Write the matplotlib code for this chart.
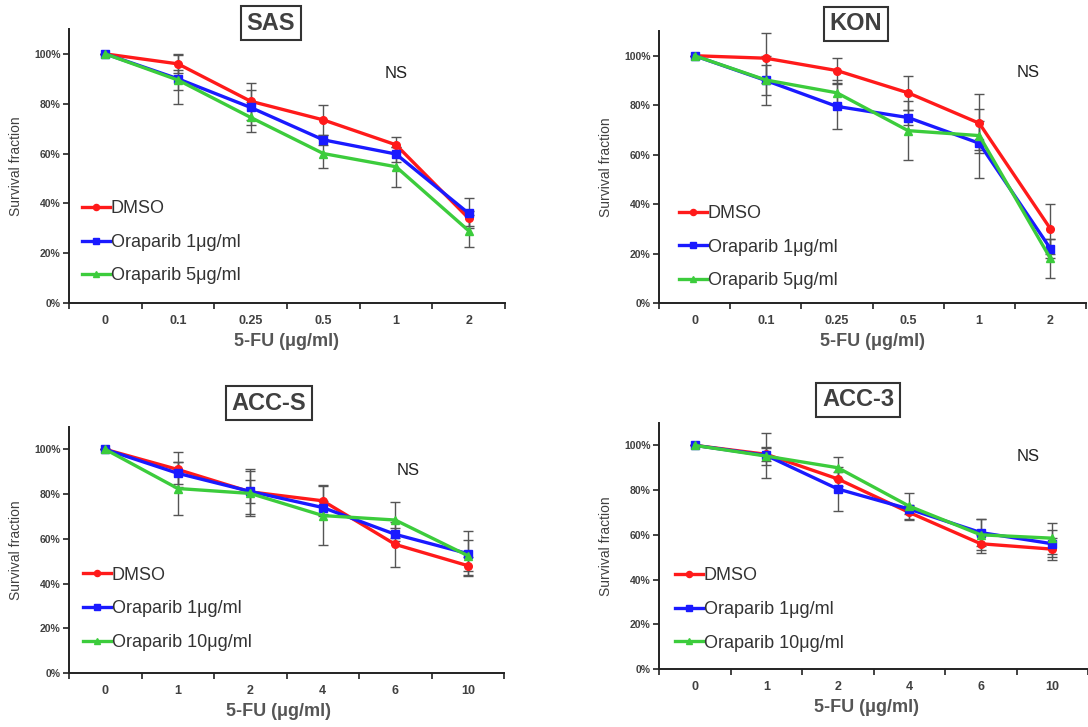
import matplotlib
matplotlib.use("Agg")
import matplotlib.pyplot as plt

plt.rcParams["font.family"] = ["Liberation Sans", "DejaVu Sans"]

W, H = 1088, 727

# --- data -------------------------------------------------------------
sas_doses = ["0", "0.1", "0.25", "0.5", "1", "2"]
sas_dmso = [100, 96, 81, 73.5, 63.5, 34]
sas_ora1 = [100, 90, 78.5, 65.5, 59.8, 36]
sas_ora5 = [100, 89.5, 74.5, 60, 54.7, 29]
sas_dmso_err = [0, 3.5, 7.5, 6, 3, 3]
sas_ora1_err = [0, 10, 7, 2, 3, 6]
sas_ora5_err = [0, 4, 6, 6, 8, 6.5]

kon_doses = ["0", "0.1", "0.25", "0.5", "1", "2"]
kon_dmso = [100, 99, 94, 85, 72.7, 30]
kon_ora1 = [100, 90, 79.5, 75, 64.6, 22]
kon_ora5 = [100, 90.2, 85, 69.7, 67.7, 18]
kon_dmso_err = [0, 10, 5, 7, 12, 10]
kon_ora1_err = [0, 10, 9, 3, 14, 4]
kon_ora5_err = [0, 6, 5, 12, 6, 8]

accs_doses = ["0", "1", "2", "4", "6", "10"]
accs_dmso = [100, 91, 81, 77, 57.5, 48]
accs_ora1 = [100, 89.3, 81.2, 74, 62, 53.4]
accs_ora10 = [100, 82.5, 80.3, 70.4, 68.4, 52.5]
accs_dmso_err = [0, 8, 10, 7, 10, 4]
accs_ora1_err = [0, 5, 5, 3, 3, 10]
accs_ora10_err = [0, 12, 10, 13, 8, 7]

acc3_doses = ["0", "1", "2", "4", "6", "10"]
acc3_dmso = [100, 96, 85, 70, 56, 53.6]
acc3_ora1 = [100, 95.5, 80.5, 71.5, 61, 56]
acc3_ora10 = [100, 95.2, 90, 72.8, 60, 58.5]
acc3_dmso_err = [0, 3, 3, 3, 4, 5]
acc3_ora1_err = [0, 10, 10, 2, 6, 6]
acc3_ora10_err = [0, 4, 5, 6, 7, 7]

yticks = [0, 20, 40, 60, 80, 100]

panels = [
    # title, doses, series, errors, labels, axes box px (l, r, t, b),
    # title centre px, NS pos, legend anchor, xlabel centre px
    ("SAS", sas_doses, [sas_dmso, sas_ora1, sas_ora5],
     [sas_dmso_err, sas_ora1_err, sas_ora5_err],
     ["DMSO", "Oraparib 1μg/ml", "Oraparib 5μg/ml"],
     (69, 505, 29, 303), (271, 23), (0.75, 0.836), (0.03, 0.375), 286),
    ("KON", kon_doses, [kon_dmso, kon_ora1, kon_ora5],
     [kon_dmso_err, kon_ora1_err, kon_ora5_err],
     ["DMSO", "Oraparib 1μg/ml", "Oraparib 5μg/ml"],
     (659, 1086, 31, 303), (856, 24), (0.864, 0.846), (0.047, 0.36), 872),
    ("ACC-S", accs_doses, [accs_dmso, accs_ora1, accs_ora10],
     [accs_dmso_err, accs_ora1_err, accs_ora10_err],
     ["DMSO", "Oraparib 1μg/ml", "Oraparib 10μg/ml"],
     (69, 504, 427, 673), (269, 403), (0.78, 0.825), (0.032, 0.432), 278),
    ("ACC-3", acc3_doses, [acc3_dmso, acc3_ora1, acc3_ora10],
     [acc3_dmso_err, acc3_ora1_err, acc3_ora10_err],
     ["DMSO", "Oraparib 1μg/ml", "Oraparib 10μg/ml"],
     (659, 1088, 423, 669), (858, 400), (0.86, 0.862), (0.037, 0.413), 866),
]

colors = ["#ff1a1a", "#1a1aff", "#3ccc3c"]
markers = ["o", "s", "^"]
text_col = "#404040"

fig = plt.figure(figsize=(W / 100, H / 100), dpi=100)

for (title, doses, series, errs, labels, box, tpos, ns_pos, leg_pos, xl_x) in panels:
    l, r, t, b = box
    ax = fig.add_axes([l / W, 1 - b / H, (r - l) / W, (b - t) / H])
    x = list(range(len(doses)))

    for vals, err in zip(series, errs):
        ax.errorbar(x, vals, yerr=err, fmt="none", ecolor="#555555",
                    elinewidth=1.0, capsize=3.5, capthick=1.0, zorder=2)
    for vals, c, m, lab in zip(series, colors, markers, labels):
        ax.plot(x, vals, color=c, lw=2.4, marker=m, ms=5.5, mec=c,
                label=lab, zorder=3)

    ax.set_xlim(-0.5, len(doses) - 0.5)
    ax.set_ylim(0, 110)
    ax.set_yticks(yticks)
    ax.set_yticklabels([f"{v}%" for v in yticks])
    ax.set_xticks(x)
    ax.set_xticklabels(doses)
    ax.set_xticks([i - 0.5 for i in range(len(doses) + 1)], minor=True)
    ax.tick_params(axis="x", which="major", length=0, pad=9,
                   labelsize=9, labelcolor=text_col)
    ax.tick_params(axis="x", which="minor", length=4, width=1.2,
                   direction="out", color="#222222")
    ax.tick_params(axis="y", length=4, width=1.2, labelsize=7.5,
                   labelcolor=text_col, pad=2, color="#222222")
    for lbl in ax.get_xticklabels() + ax.get_yticklabels():
        lbl.set_fontweight("bold")

    for s in ["top", "right"]:
        ax.spines[s].set_visible(False)
    for s in ["left", "bottom"]:
        ax.spines[s].set_linewidth(1.4)
        ax.spines[s].set_color("#222222")

    ax.set_ylabel("Survival fraction", fontsize=10, color=text_col)
    ax.yaxis.set_label_coords(-46 / (r - l), 0.5)
    ax.set_xlabel("5-FU (μg/ml)", fontsize=13, fontweight="bold",
                  color="#555555")
    ax.xaxis.set_label_coords((xl_x - l) / (r - l), -30 / (b - t))

    ax.text(ns_pos[0], ns_pos[1], "NS", transform=ax.transAxes,
            fontsize=12, color="#222222", ha="center", va="center")

    ax.legend(loc="upper left", bbox_to_anchor=leg_pos, frameon=False,
              fontsize=13, handlelength=1.55, handletextpad=0.05,
              labelspacing=0.92, borderpad=0, borderaxespad=0,
              markerscale=0.8, labelcolor="#333333")

    fig.text(tpos[0] / W, 1 - tpos[1] / H, title, fontsize=17,
             fontweight="bold", color=text_col, ha="center", va="center",
             bbox=dict(boxstyle="square,pad=0.25", fc="white",
                       ec="#333333", lw=1.5))

fig.savefig("out.png", dpi=100)
